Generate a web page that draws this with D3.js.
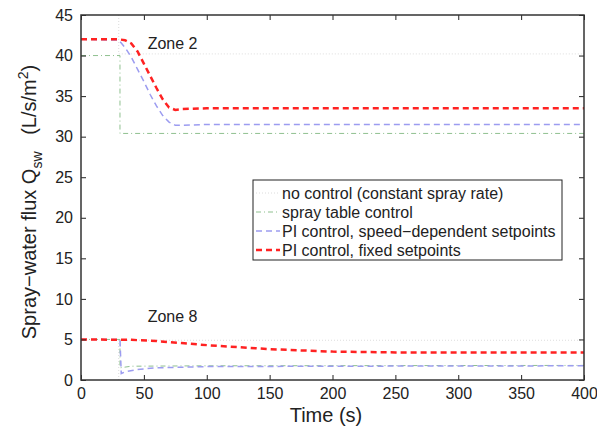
<!DOCTYPE html>
<html>
<head>
<meta charset="utf-8">
<script src="https://cdn.jsdelivr.net/npm/d3@7"></script>
<style>
body{margin:0;background:#fff;}
text{font-family:"Liberation Sans",Arial,sans-serif;fill:#222;}
</style>
</head>
<body>
<svg id="chart" width="597" height="435"></svg>
<script>
// time (s) and spray-water flux values
var noControl2=[[30,45],[30,40.2],[400,40.2]];
var noControl8=[[30,0],[30,4.9],[400,4.9]];
var table2=[[0,40],[31,40],[31,30.4],[400,30.4]];
var table8=[[0,5],[31,5],[31,1.5],[40,1.7],[100,1.75],[400,1.8]];
var piSpeed2=[[0,42],[30,41.9],[35,41],[40,39.8],[45,38.3],[50,36.8],[55,35.2],[60,33.8],[65,32.6],[70,31.8],[75,31.4],[80,31.4],[100,31.5],[400,31.5]];
var piSpeed8=[[0,5],[31,5],[32,0.8],[35,1],[45,1.3],[60,1.5],[100,1.65],[200,1.7],[400,1.75]];
var piFixed2=[[0,42],[30,42],[35,41.9],[40,41.5],[45,40.5],[50,39],[55,37.5],[60,36],[65,34.6],[70,33.6],[75,33.3],[80,33.4],[100,33.5],[400,33.5]];
var piFixed8=[[0,5],[40,4.95],[60,4.8],[80,4.55],[100,4.3],[125,4.05],[150,3.8],[175,3.65],[200,3.5],[225,3.45],[250,3.4],[400,3.4]];
var xTicks=[0,50,100,150,200,250,300,350,400];
var yTicks=[0,5,10,15,20,25,30,35,40,45];
var legendLabels=["no control (constant spray rate)","spray table control","PI control, speed\u2212dependent setpoints","PI control, fixed setpoints"];

var styles=[
  {color:"#dcdcdc",width:1,dash:"1,2"},
  {color:"#8fc08f",width:1,dash:"5,3,1,3"},
  {color:"#9c9cf0",width:1.5,dash:"6,4"},
  {color:"#ff2222",width:2.5,dash:"6,4"}
];

var svg=d3.select("#chart");
var pLeft=81,pRight=584,pTop=15,pBottom=380;

var x=d3.scaleLinear().domain([0,400]).range([pLeft,pRight]);
var y=d3.scaleLinear().domain([0,45]).range([pBottom,pTop]);

var line=d3.line().x(function(d){return x(d[0]);}).y(function(d){return y(d[1]);});

var series=[[noControl2,noControl8],[table2,table8],[piSpeed2,piSpeed8],[piFixed2,piFixed8]];
series.forEach(function(pair,i){
  pair.forEach(function(s){
    svg.append("path")
      .attr("d",line(s))
      .attr("fill","none")
      .attr("stroke",styles[i].color)
      .attr("stroke-width",styles[i].width)
      .attr("stroke-dasharray",styles[i].dash);
  });
});

// axes, MATLAB style ticks pointing inward
var gx=svg.append("g").attr("transform","translate(0,"+pBottom+")")
  .call(d3.axisBottom(x).tickValues(xTicks).tickSizeInner(-5).tickSizeOuter(0).tickPadding(8));
var gxt=svg.append("g").attr("transform","translate(0,"+pTop+")")
  .call(d3.axisTop(x).tickValues(xTicks).tickSizeInner(-5).tickSizeOuter(0).tickFormat(""));
var gy=svg.append("g").attr("transform","translate("+pLeft+",0)")
  .call(d3.axisLeft(y).tickValues(yTicks).tickSizeInner(-5).tickSizeOuter(0).tickPadding(8));
var gyr=svg.append("g").attr("transform","translate("+pRight+",0)")
  .call(d3.axisRight(y).tickValues(yTicks).tickSizeInner(-5).tickSizeOuter(0).tickFormat(""));

[gx,gxt,gy,gyr].forEach(function(g){
  g.select(".domain").remove();
  g.selectAll(".tick line").attr("stroke","#222").attr("stroke-width",1);
  g.selectAll("text").attr("font-size",16).attr("font-family","Liberation Sans, Arial, sans-serif").attr("fill","#222");
});

svg.append("rect")
  .attr("x",pLeft).attr("y",pTop)
  .attr("width",pRight-pLeft).attr("height",pBottom-pTop)
  .attr("fill","none").attr("stroke","#333").attr("stroke-width",1.5);

svg.append("text").attr("x",x(53)).attr("y",y(40.8)).attr("font-size",16).text("Zone 2");
svg.append("text").attr("x",x(53)).attr("y",y(7.2)).attr("font-size",16).text("Zone 8");

svg.append("text")
  .attr("x",326).attr("y",422)
  .attr("text-anchor","middle").attr("font-size",20)
  .text("Time (s)");

var yl=svg.append("text")
  .attr("transform","translate(36,202) rotate(-90)")
  .attr("text-anchor","middle").attr("font-size",20);
yl.append("tspan").text("Spray\u2212water flux Q");
yl.append("tspan").attr("font-size",14).attr("dy",6).text("sw");
yl.append("tspan").attr("dy",-6).text("\u00a0\u00a0 (L/s/m");
yl.append("tspan").attr("font-size",14).attr("dy",-8).text("2");
yl.append("tspan").attr("dy",8).text(")");

// legend
var lg=svg.append("g");
lg.append("rect").attr("x",253).attr("y",180).attr("width",309).attr("height",80)
  .attr("fill","#fff").attr("stroke","#222").attr("stroke-width",1);
legendLabels.forEach(function(lab,i){
  var yy=193+i*19;
  lg.append("line").attr("x1",256).attr("x2",280).attr("y1",yy).attr("y2",yy)
    .attr("stroke",styles[i].color).attr("stroke-width",styles[i].width)
    .attr("stroke-dasharray",styles[i].dash);
  lg.append("text").attr("x",282).attr("y",yy+5.5).attr("font-size",16).text(lab);
});
</script>
</body>
</html>
